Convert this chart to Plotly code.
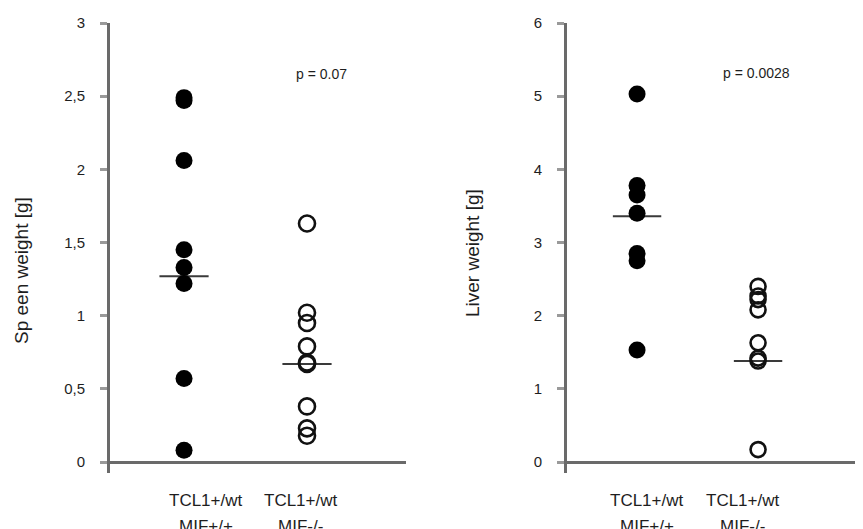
import plotly.graph_objects as go

# ---------------- data ----------------
groups = ["TCL1+/wt|MIF+/+", "TCL1+/wt|MIF-/-"]

spleen_mif_wt = [2.49, 2.47, 2.06, 1.45, 1.33, 1.22, 0.57, 0.08]
spleen_mif_ko = [1.63, 1.02, 0.95, 0.79, 0.68, 0.67, 0.38, 0.23, 0.18]
spleen_medians = [1.27, 0.67]
spleen_p = "p = 0.07"

liver_mif_wt = [5.03, 3.78, 3.65, 3.40, 2.85, 2.75, 1.53]
liver_mif_ko = [2.40, 2.27, 2.22, 2.08, 1.63, 1.42, 1.38, 0.17]
liver_medians = [3.36, 1.38]
liver_p = "p = 0.0028"

spleen_ticks = [0, 0.5, 1, 1.5, 2, 2.5, 3]
spleen_ticktext = ["0", "0,5", "1", "1,5", "2", "2,5", "3"]
liver_ticks = [0, 1, 2, 3, 4, 5, 6]
liver_ticktext = ["0", "1", "2", "3", "4", "5", "6"]

spleen_title = "Sp een weight [g]"
liver_title = "Liver weight [g]"

# ---------------- figure ----------------
W, H = 863, 529
OFF = 8  # page body margin
FONT = "Liberation Sans, Arial, sans-serif"
TXT = "#1e1e1e"
AXC = "#6a6a6a"


def SX(px):
    return (px - OFF) / W


def SY(py):
    return 1 - (py - OFF) / H


fig = go.Figure()


def add_panel(xa, ya, wt, ko, medians, sym_size):
    for i, m in enumerate(medians):
        cx = i + 1
        fig.add_trace(go.Scatter(
            x=[cx - 0.2, cx + 0.2], y=[m, m], mode="lines",
            line=dict(color="#3a3a3a", width=2),
            xaxis=xa, yaxis=ya, hoverinfo="skip"))
    fig.add_trace(go.Scatter(
        x=[1] * len(wt), y=wt, mode="markers",
        marker=dict(symbol="circle", size=17, color="black",
                    line=dict(width=0)),
        xaxis=xa, yaxis=ya))
    fig.add_trace(go.Scatter(
        x=[2] * len(ko), y=ko, mode="markers",
        marker=dict(symbol="circle-open", size=sym_size, color="#111111",
                    line=dict(width=2.6)),
        xaxis=xa, yaxis=ya))


add_panel("x", "y", spleen_mif_wt, spleen_mif_ko, spleen_medians, 16)
add_panel("x2", "y2", liver_mif_wt, liver_mif_ko, liver_medians, 15)


def yaxis_cfg(domain, rng, tickvals, ticktext, anchor):
    return dict(
        domain=domain, range=rng, anchor=anchor, showgrid=False,
        automargin=False,
        showline=True, linecolor=AXC, linewidth=3,
        ticks="outside", ticklen=7, tickwidth=3, tickcolor="#9a9a9a",
        tickvals=tickvals, ticktext=ticktext,
        tickfont=dict(family=FONT, size=15, color=TXT),
        ticklabelstandoff=12,
        zeroline=True, zerolinecolor=AXC, zerolinewidth=3,
    )


def xaxis_cfg(domain, rng, anchor):
    return dict(domain=domain, range=rng, anchor=anchor, showgrid=False,
                automargin=False,
                showline=False, zeroline=False, showticklabels=False,
                ticks="")


ydom = [SY(473), SY(23)]
fig.update_layout(
    width=W, height=H,
    margin=dict(l=0, r=0, t=0, b=0, autoexpand=False),
    paper_bgcolor="white", plot_bgcolor="white",
    showlegend=False,
    xaxis=xaxis_cfg([SX(110), SX(406)], [0.398, 2.805], "y"),
    yaxis=yaxis_cfg(ydom, [-0.075, 3], spleen_ticks, spleen_ticktext, "x"),
    xaxis2=xaxis_cfg([SX(567), 1.0], [0.421, 0.421 + (W + OFF - 567) / 121], "y2"),
    yaxis2=yaxis_cfg(ydom, [-0.15, 6], liver_ticks, liver_ticktext, "x2"),
)

ann = []
label_pos = {
    "x": [1.178, 1.951],
    "x2": [1.082, 1.871],
}
for xa, xs in label_pos.items():
    for g, xv in zip(groups, xs):
        l1, l2 = g.split("|")
        ann.append(dict(x=xv, y=SY(500), xref=xa, yref="paper", text=l1,
                        showarrow=False, xanchor="center", yanchor="middle",
                        font=dict(family=FONT, size=17, color=TXT)))
        ann.append(dict(x=xv, y=SY(526), xref=xa, yref="paper", text=l2,
                        showarrow=False, xanchor="center", yanchor="middle",
                        font=dict(family=FONT, size=17, color=TXT)))

ann.append(dict(x=SX(321), y=SY(74), xref="paper", yref="paper", text=spleen_p,
                showarrow=False, xanchor="center", yanchor="middle",
                font=dict(family=FONT, size=14, color=TXT)))
ann.append(dict(x=SX(756), y=SY(73), xref="paper", yref="paper", text=liver_p,
                showarrow=False, xanchor="center", yanchor="middle",
                font=dict(family=FONT, size=14, color=TXT)))

ann.append(dict(x=SX(21), y=SY(271), xref="paper", yref="paper", text=spleen_title,
                showarrow=False, textangle=-90, xanchor="center", yanchor="middle",
                font=dict(family=FONT, size=19, color=TXT)))
ann.append(dict(x=SX(472), y=SY(253), xref="paper", yref="paper", text=liver_title,
                showarrow=False, textangle=-90, xanchor="center", yanchor="middle",
                font=dict(family=FONT, size=19, color=TXT)))

fig.update_layout(annotations=ann)

fig.write_html("out.html")
